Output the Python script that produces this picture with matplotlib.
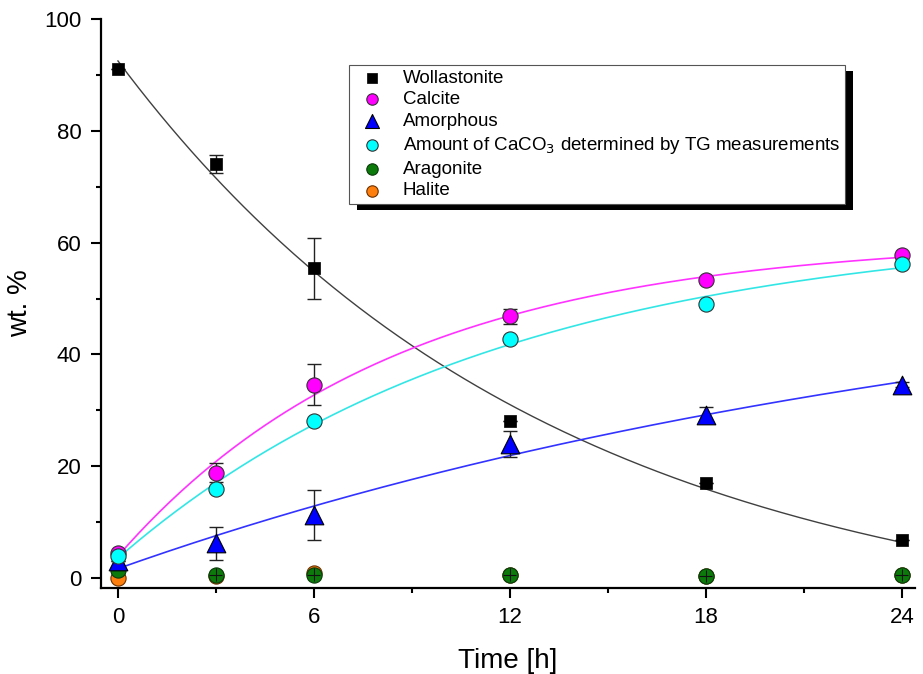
import numpy as np
import matplotlib
matplotlib.use("Agg")
import matplotlib.pyplot as plt
from matplotlib.patches import Rectangle

plt.rcParams['font.family'] = ['Liberation Sans', 'DejaVu Sans']

# ---- data ----
time_h = [0, 3, 6, 12, 18, 24]

wollastonite = [91.0, 74.1, 55.4, 28.1, 16.9, 6.7]
wollastonite_err = [0.0, 1.6, 5.5, 0.0, 0.0, 0.0]

calcite = [4.5, 18.8, 34.6, 46.8, 53.3, 57.7]
calcite_err = [0.0, 1.7, 3.6, 1.3, 0.5, 0.5]

amorphous = [3.0, 6.2, 11.3, 24.0, 29.2, 34.6]
amorphous_err = [0.0, 3.0, 4.5, 2.3, 1.3, 0.5]

caco3_tg = [3.9, 16.0, 28.0, 42.7, 49.0, 56.1]

aragonite = [1.5, 0.6, 0.6, 0.6, 0.4, 0.5]
aragonite_err = [0.0, 1.1, 1.1, 1.1, 1.1, 1.1]

halite = [0.0, 0.3, 0.9, 0.6, 0.3, 0.5]

x_ticks = [0, 6, 12, 18, 24]
y_ticks = [0, 20, 40, 60, 80, 100]

labels = ["Wollastonite", "Calcite", "Amorphous",
          "Amount of CaCO$_3$ determined by TG measurements",
          "Aragonite", "Halite"]


def exp_fit(t, y):
    """Least-squares fit of y = a + b*exp(-k t) to the data points."""
    t = np.asarray(t, float)
    y = np.asarray(y, float)
    best = None
    for k in np.linspace(0.001, 0.5, 5000):
        M = np.column_stack([np.ones_like(t), np.exp(-k * t)])
        coef, *_ = np.linalg.lstsq(M, y, rcond=None)
        r = np.sum((M @ coef - y) ** 2)
        if best is None or r < best[0]:
            best = (r, k, coef)
    _, k, (a, b) = best
    return lambda tt: a + b * np.exp(-k * tt)


fig = plt.figure(figsize=(9.23, 6.74), dpi=100)
ax = fig.add_axes([0.1094, 0.1276, 0.8819, 0.8457])

tt = np.linspace(0, 24, 300)
ax.plot(tt, exp_fit(time_h, wollastonite)(tt), color='#404040', lw=1.0, zorder=2)
ax.plot(tt, exp_fit(time_h, calcite)(tt), color='#ff33ff', lw=1.2, zorder=2)
ax.plot(tt, exp_fit(time_h, caco3_tg)(tt), color='#33e6e6', lw=1.2, zorder=2)
ax.plot(tt, exp_fit(time_h, amorphous)(tt), color='#3333ff', lw=1.2, zorder=2)

ebkw = dict(fmt='none', ecolor='#222222', elinewidth=1.0, capsize=5, capthick=1.0)

# halite
ax.scatter(time_h, halite, s=120, marker='o', facecolor='#ff7f0e', edgecolor='#6b3000',
           linewidths=0.8, zorder=3, label=labels[5])
# aragonite
ax.scatter(time_h, aragonite, s=120, marker='o', facecolor='#0b7a0b', edgecolor='#0a3a0a',
           linewidths=0.8, zorder=4, label=labels[4])
ax.errorbar(time_h[1:], aragonite[1:], yerr=aragonite_err[1:], xerr=0.2, fmt='none',
            ecolor='#111111', elinewidth=0.8, capsize=0, zorder=4.5)
# amorphous
ax.errorbar(time_h, amorphous, yerr=amorphous_err, zorder=5, **ebkw)
ax.scatter(time_h, amorphous, s=180, marker='^', facecolor='#0000ff', edgecolor='black',
           linewidths=0.8, zorder=5.5, label=labels[2])
# calcite
ax.errorbar(time_h, calcite, yerr=calcite_err, zorder=6, **ebkw)
ax.scatter(time_h, calcite, s=120, marker='o', facecolor='#ff00ff', edgecolor='#333333',
           linewidths=0.8, zorder=6.5, label=labels[1])
# caco3 TG
ax.scatter(time_h, caco3_tg, s=120, marker='o', facecolor='#00ffff', edgecolor='#333333',
           linewidths=0.8, zorder=7, label=labels[3])
# wollastonite
ax.errorbar(time_h, wollastonite, yerr=wollastonite_err, zorder=8, **ebkw)
ax.scatter(time_h, wollastonite, s=85, marker='s', facecolor='black', edgecolor='black',
           linewidths=0.5, zorder=8.5, label=labels[0])

ax.set_xlim(-0.52, 24.4)
ax.set_ylim(-1.8, 100.2)
ax.set_xticks(x_ticks)
ax.set_yticks(y_ticks)
ax.set_xticks([3, 9, 15, 21], minor=True)
ax.set_yticks([10, 30, 50, 70, 90], minor=True)
for s in ['top', 'right']:
    ax.spines[s].set_visible(False)
for s in ['left', 'bottom']:
    ax.spines[s].set_linewidth(1.6)
ax.spines['left'].set_bounds(-1.8, 100)
ax.tick_params(which='major', direction='out', length=7, width=1.5, labelsize=16, pad=7)
ax.tick_params(which='minor', direction='out', length=3.5, width=1.5)
ax.set_xlabel("Time [h]", fontsize=20, labelpad=14)
ax.set_ylabel("wt. %", fontsize=20, labelpad=8)

hmap = dict(zip(*ax.get_legend_handles_labels()[::-1]))
leg = ax.legend([hmap[l] for l in labels], labels, loc='upper left',
                bbox_to_anchor=(0.305, 0.918), fontsize=13.5, frameon=True,
                fancybox=False, edgecolor='#555555', framealpha=1,
                borderpad=0.25, labelspacing=0.25, handletextpad=0.7,
                handlelength=1.9, scatterpoints=1, markerscale=0.75, borderaxespad=0)
leg.get_frame().set_linewidth(0.8)
leg.set_zorder(20)

fig.canvas.draw()
bb = leg.get_window_extent()
ax.add_patch(Rectangle((bb.x0 + 8, bb.y0 - 6), bb.width, bb.height, transform=None,
                       facecolor='black', edgecolor='none', zorder=19, clip_on=False))

fig.savefig("out.png", dpi=100)
